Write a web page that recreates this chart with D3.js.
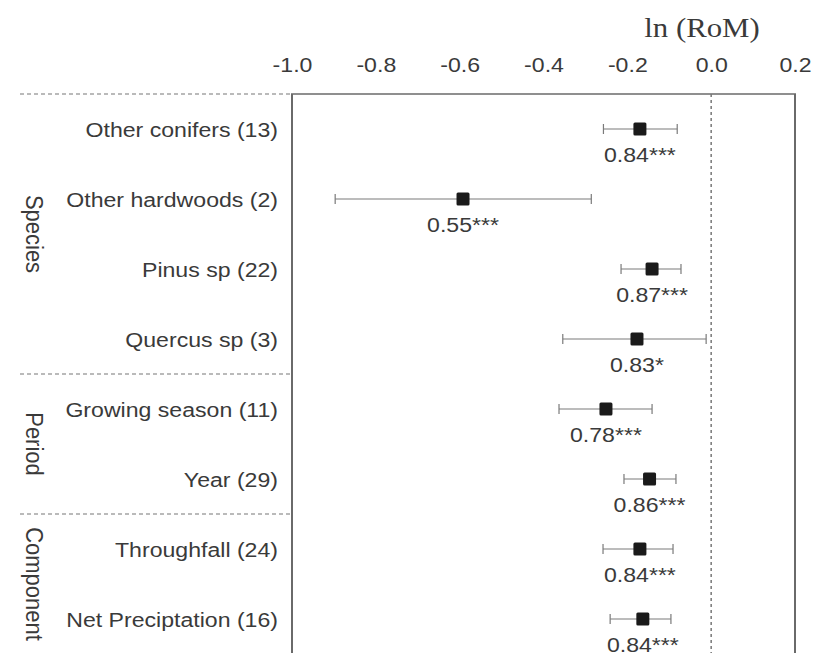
<!DOCTYPE html>
<html><head><meta charset="utf-8">
<script src="https://cdn.jsdelivr.net/npm/d3@7"></script>
<style>body{margin:0;background:#fff}svg{display:block}</style>
</head><body>
<svg id="c" width="813" height="653"></svg>
<script>
const categories = ["Other conifers (13)","Other hardwoods (2)","Pinus sp (22)","Quercus sp (3)","Growing season (11)","Year (29)","Throughfall (24)","Net Preciptation (16)"];
const groupNames = ["Species","Period","Component"];
const groupOf = ["Species","Species","Species","Species","Period","Period","Component","Component"];
const means = [-0.170,-0.592,-0.141,-0.177,-0.251,-0.147,-0.170,-0.163];
const lower = [-0.257,-0.897,-0.215,-0.354,-0.363,-0.208,-0.258,-0.241];
const upper = [-0.081,-0.286,-0.072,-0.012,-0.141,-0.084,-0.091,-0.096];
const ratios = ["0.84","0.55","0.87","0.83","0.78","0.86","0.84","0.84"];
const sig = ["***","***","***","*","***","***","***","***"];
const ticks = [-1.0,-0.8,-0.6,-0.4,-0.2,0.0,0.2];

const svg = d3.select("#c");
const font = "Liberation Sans, Arial, sans-serif";
const textCol = "#3a3a3a";
const SX = 1.1;
const x = d3.scaleLinear().domain([-1.0,0.2]).range([292,795]);
const y = d3.scaleBand().domain(categories).range([94,654]).paddingInner(0).paddingOuter(0);
const cy = d => y(d) + y.bandwidth()/2;

function txt(px, py, s, size, anchor, fam) {
  return svg.append("text").attr("transform",`translate(${px},${py}) scale(${SX},1)`)
    .attr("text-anchor",anchor).attr("font-family",fam||font).attr("font-size",size).attr("fill",textCol).text(s);
}

// axis labels (top)
const ax = d3.axisTop(x).tickValues(ticks).tickFormat(d => d.toFixed(1)).tickSize(0).tickPadding(0);
const gAx = svg.append("g").attr("transform","translate(0,72)").call(ax);
gAx.select(".domain").remove();
gAx.selectAll("text").attr("font-family",font).attr("font-size",21).attr("fill",textCol).attr("dy",0)
  .attr("transform",`scale(${SX},1)`);
txt(702, 37, "ln (RoM)", 28, "middle", "Liberation Serif, Times New Roman, serif");

// frame
const frameCol = "#6a6a6a";
svg.append("line").attr("x1",x(-1.0)-1).attr("x2",x(0.2)+1).attr("y1",94).attr("y2",94).attr("stroke",frameCol).attr("stroke-width",1.5);
svg.append("line").attr("x1",x(-1.0)).attr("x2",x(-1.0)).attr("y1",94).attr("y2",660).attr("stroke",frameCol).attr("stroke-width",2);
svg.append("line").attr("x1",x(0.2)).attr("x2",x(0.2)).attr("y1",94).attr("y2",660).attr("stroke",frameCol).attr("stroke-width",2);
svg.append("line").attr("x1",x(0)).attr("x2",x(0)).attr("y1",94).attr("y2",660).attr("stroke","#777").attr("stroke-width",1.5).attr("stroke-dasharray","3,3");

// group separators
const groupStarts = groupNames.map(g => categories[groupOf.indexOf(g)]);
svg.selectAll(".sep").data(groupStarts).join("line")
  .attr("x1",20).attr("x2",x(-1.0)).attr("y1",d=>y(d)).attr("y2",d=>y(d))
  .attr("stroke","#777").attr("stroke-width",1.2).attr("stroke-dasharray","4,3");

// group labels
groupNames.forEach(g => {
  const members = categories.filter((c,i)=>groupOf[i]===g);
  const top = y(members[0]), bot = y(members[members.length-1]) + y.bandwidth();
  const m = (top+bot)/2;
  svg.append("text").attr("transform",`translate(26,${m}) rotate(90) scale(1,${SX})`)
    .attr("text-anchor","middle").attr("font-family",font).attr("font-size",22).attr("fill",textCol).text(g);
});

// category labels
categories.forEach(c => txt(278, cy(c)+8, c, 21, "end"));

// error bars
const idx = d3.range(categories.length);
const ebCol = "#7a7a7a";
svg.selectAll(".eb").data(idx).join("line")
  .attr("x1",i=>x(lower[i])).attr("x2",i=>x(upper[i])).attr("y1",i=>cy(categories[i])).attr("y2",i=>cy(categories[i]))
  .attr("stroke",ebCol).attr("stroke-width",1.2);
svg.selectAll(".capl").data(idx).join("line")
  .attr("x1",i=>x(lower[i])).attr("x2",i=>x(lower[i])).attr("y1",i=>cy(categories[i])-5).attr("y2",i=>cy(categories[i])+5)
  .attr("stroke",ebCol).attr("stroke-width",1.2);
svg.selectAll(".capu").data(idx).join("line")
  .attr("x1",i=>x(upper[i])).attr("x2",i=>x(upper[i])).attr("y1",i=>cy(categories[i])-5).attr("y2",i=>cy(categories[i])+5)
  .attr("stroke",ebCol).attr("stroke-width",1.2);
// squares
const s = 13;
svg.selectAll(".pt").data(idx).join("rect")
  .attr("x",i=>x(means[i])-s/2).attr("y",i=>cy(categories[i])-s/2).attr("width",s).attr("height",s)
  .attr("rx",1.5).attr("fill","#1a1a1a");

// ratio labels
idx.forEach(i => txt(x(means[i]), cy(categories[i])+33, ratios[i] + sig[i], 21, "middle"));
</script>
</body></html>
